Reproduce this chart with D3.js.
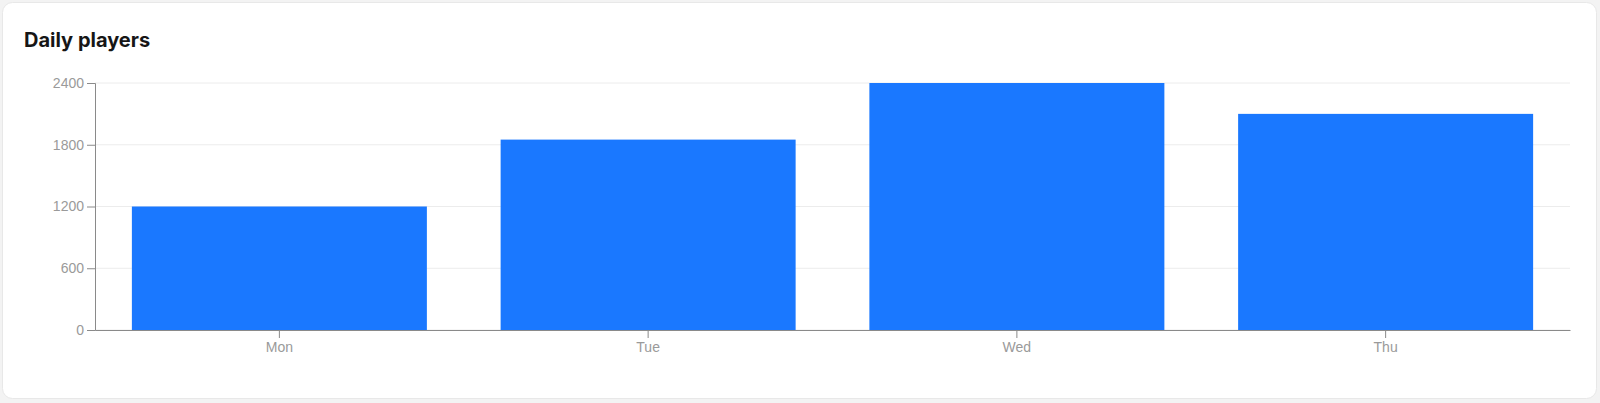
<!DOCTYPE html>
<html>
<head>
<meta charset="utf-8">
<script src="https://cdn.jsdelivr.net/npm/d3@7"></script>
<style>
  html, body { margin: 0; padding: 0; background: #f3f3f3; }
  svg { display: block; font-family: "Inter", "Noto Sans", sans-serif; }
  .axis text { fill: #9a9a9a; font-size: 14px; }
  .axis path, .axis line { stroke: #8a8a8a; }
  .grid line { stroke: #ececec; }
</style>
</head>
<body>
<script>
// chart data
const days = ["Mon", "Tue", "Wed", "Thu"];
const players = [1200, 1850, 2400, 2100];
const yTicks = [0, 600, 1200, 1800, 2400];

const W = 1600, H = 403;
const margin = {top: 83, right: 30, bottom: 73, left: 95};
const width = W - margin.left - margin.right,
      height = H - margin.top - margin.bottom;

const svg = d3.select("body").append("svg")
    .attr("width", W)
    .attr("height", H);

// the white card
svg.append("rect")
    .attr("x", 2.5).attr("y", 2.5)
    .attr("width", W - 6).attr("height", H - 7)
    .attr("rx", 10).attr("ry", 10)
    .attr("fill", "#fff")
    .attr("stroke", "#e8e8e8");

svg.append("text")
    .attr("x", 24)
    .attr("y", 47)
    .attr("font-size", 20)
    .attr("font-weight", 700)
    .attr("fill", "#161616")
    .text("Daily players");

const g = svg.append("g")
    .attr("transform", `translate(${margin.left}, ${margin.top})`);

const x = d3.scaleBand()
    .domain(days)
    .range([0, width])
    .paddingInner(0.2)
    .paddingOuter(0.1);

const y = d3.scaleLinear()
    .domain([0, 2400])
    .range([height, 0]);

// grid lines
g.append("g")
    .attr("class", "grid")
    .selectAll("line")
    .data(yTicks)
  .enter().append("line")
    .attr("x1", 0)
    .attr("x2", width)
    .attr("y1", d => y(d))
    .attr("y2", d => y(d));

// bars
g.selectAll(".bar")
    .data(days.map((d, i) => ({day: d, value: players[i]})))
  .enter().append("rect")
    .attr("class", "bar")
    .attr("x", d => x(d.day))
    .attr("width", x.bandwidth())
    .attr("y", d => y(d.value))
    .attr("height", d => height - y(d.value))
    .attr("fill", "#1a78ff");

g.append("g")
    .attr("class", "axis")
    .attr("transform", `translate(0, ${height})`)
    .call(d3.axisBottom(x).tickSize(8).tickSizeOuter(0).tickPadding(4));

g.append("g")
    .attr("class", "axis")
    .call(d3.axisLeft(y).tickValues(yTicks).tickFormat(d3.format("d")).tickSize(8).tickPadding(3));

g.selectAll(".axis .domain").attr("stroke", "#8a8a8a");
</script>
</body>
</html>
